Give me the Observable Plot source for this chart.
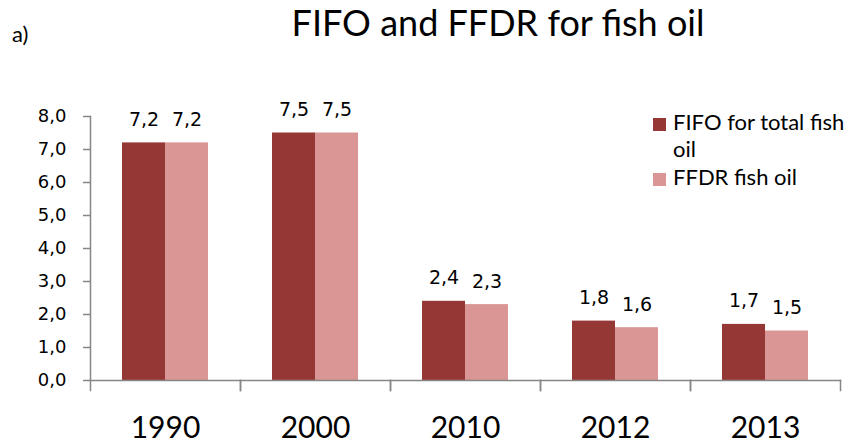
<!DOCTYPE html>
<html>
<head>
<meta charset="utf-8">
<script src="https://cdn.jsdelivr.net/npm/d3@7"></script>
<script src="https://cdn.jsdelivr.net/npm/@observablehq/plot@0.6"></script>
<style>
  html, body { margin: 0; padding: 0; background: #fff; }
  #wrap { position: relative; width: 853px; height: 443px; overflow: hidden; }
  .narrow { font-family: Lato, "Open Sans", sans-serif; color: #000; }
  #title { position: absolute; left: 198px; width: 600px; top: 4px; text-align: center; font-size: 36px; line-height: 36px; white-space: nowrap; }
  #panel { position: absolute; left: 12px; top: 23px; font-size: 22px; line-height: 22px; }
  .leg { position: absolute; left: 673px; width: 178px; font-size: 22px; line-height: 27px; }
  .sw { position: absolute; left: 653px; width: 13px; height: 13px; }
  #chart { position: absolute; left: 0; top: 0; }
</style>
</head>
<body>
<div id="wrap">
  <div id="chart"></div>
  <div id="title" class="narrow">FIFO and FFDR for fish oil</div>
  <div id="panel" class="narrow">a)</div>
</div>
<script>
const years = ["1990", "2000", "2010", "2012", "2013"];
const fifo = [7.2, 7.5, 2.4, 1.8, 1.7];
const ffdr = [7.2, 7.5, 2.3, 1.6, 1.5];
const seriesNames = ["FIFO for total fish oil", "FFDR fish oil"];
const seriesColors = ["#953735", "#D99694"];
const yTicks = [0, 1, 2, 3, 4, 5, 6, 7, 8];

const data = years.flatMap((yr, i) => [
  {year: yr, series: seriesNames[0], value: fifo[i]},
  {year: yr, series: seriesNames[1], value: ffdr[i]}
]);

const fmt = v => d3.format(".1f")(v).replace(".", ",");

const W = 853, H = 443, mT = 116, mB = 63, mL = 90, mR = 13;
const plotH = H - mT - mB;
const axisColor = "#868686";
const catFont = "Lato, Open Sans, sans-serif";

const chart = Plot.plot({
  width: W,
  height: H,
  marginTop: mT,
  marginBottom: mB,
  marginLeft: mL,
  marginRight: mR,
  style: {fontFamily: "DejaVu Sans, Verdana, sans-serif", background: "transparent", color: "#000"},
  fx: {domain: years, padding: 0, axis: null, label: null},
  x: {domain: seriesNames, paddingInner: 0, paddingOuter: 0.744, axis: null},
  y: {domain: [0, 8], axis: null},
  color: {domain: seriesNames, range: seriesColors},
  marks: [
    Plot.barY(data, {fx: "year", x: "series", y: "value", fill: "series"}),
    Plot.text(data, {fx: "year", x: "series", y: "value", text: d => fmt(d.value),
      lineAnchor: "bottom", dy: -17, fontSize: 19, fill: "#000"}),
    Plot.frame({anchor: "left", facet: "super", stroke: axisColor, strokeWidth: 1.5}),
    Plot.frame({anchor: "bottom", facet: "super", stroke: axisColor, strokeWidth: 1.5}),
    Plot.frame({anchor: "left", stroke: axisColor, strokeWidth: 1.5, insetTop: plotH, insetBottom: -10}),
    Plot.frame({anchor: "right", stroke: axisColor, strokeWidth: 1.5, insetTop: plotH, insetBottom: -10}),
    Plot.axisY({ticks: yTicks, tickSize: 7, tickPadding: 17, tickFormat: fmt, fontSize: 18,
      stroke: axisColor, strokeWidth: 1.5, fill: "#000", label: null}),
    Plot.axisFx({anchor: "bottom", tickSize: 0, tickPadding: 36, fontSize: 30,
      fontFamily: catFont, fill: "#000", label: null})
  ]
});
document.getElementById("chart").appendChild(chart);

const wrap = document.getElementById("wrap");
const legTops = [108, 163];
seriesNames.forEach((name, i) => {
  const sw = document.createElement("div");
  sw.className = "sw";
  sw.style.background = seriesColors[i];
  sw.style.top = (legTops[i] + 10) + "px";
  wrap.appendChild(sw);
  const t = document.createElement("div");
  t.className = "leg narrow";
  t.style.top = legTops[i] + "px";
  t.textContent = name;
  wrap.appendChild(t);
});
</script>
</body>
</html>
